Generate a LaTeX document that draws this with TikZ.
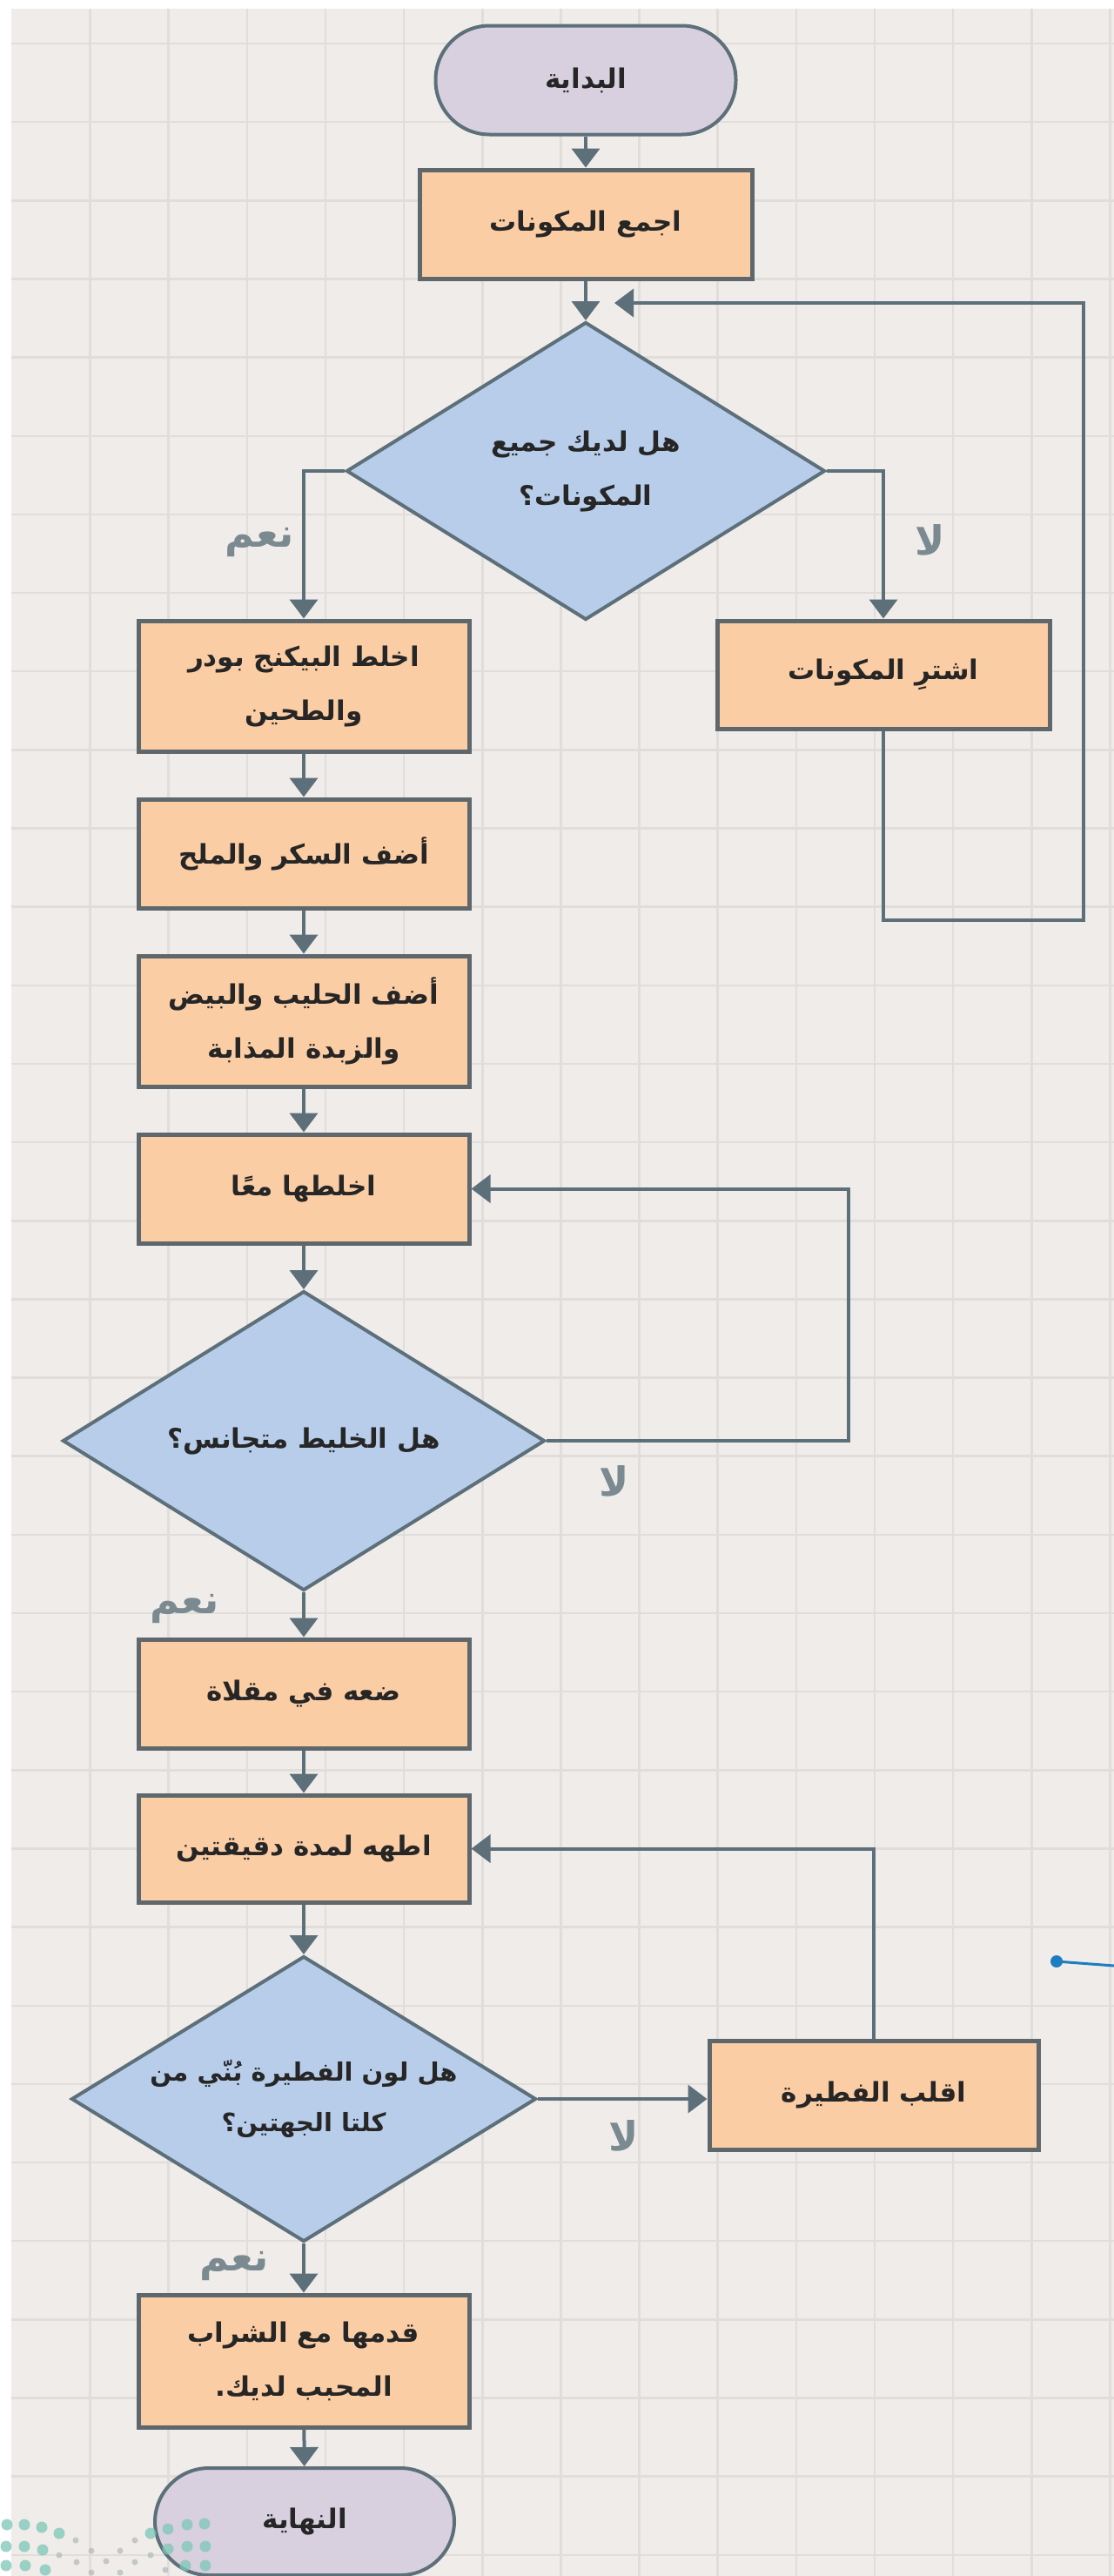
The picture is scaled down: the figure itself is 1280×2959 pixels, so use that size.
\documentclass[tikz,border=0pt]{standalone}
\usepackage{fontspec}
\usetikzlibrary{shapes.geometric,arrows.meta,calc}
\TeXXeTstate=1
\newfontfamily\arabicfont[Script=Arabic]{DejaVu Sans}
\definecolor{bgc}{HTML}{EFECEA}
\definecolor{gridc}{HTML}{E0DDDA}
\definecolor{peach}{HTML}{FBCDA4}
\definecolor{bluef}{HTML}{B7CDEA}
\definecolor{lav}{HTML}{D8D0DF}
\definecolor{edgec}{HTML}{5E676C}
\definecolor{linec}{HTML}{5D707A}
\definecolor{labc}{HTML}{7B8A90}
\definecolor{txtc}{HTML}{262626}
\definecolor{dotc}{HTML}{7CC7B6}
\definecolor{dotg}{HTML}{B3BDB9}
\definecolor{bluedot}{HTML}{1E7DC0}
\begin{document}
\begin{tikzpicture}[x=1pt,y=-1pt,
  txt/.style={font=\arabicfont\bfseries\fontsize{31}{62}\selectfont,text=txtc,align=center},
  procbox/.style={txt,rectangle,draw=edgec,line width=5pt,fill=peach,minimum width=380pt,minimum height=125pt,inner sep=0pt},
  decbox/.style={diamond,draw=linec,line width=4pt,fill=bluef,inner sep=0pt},
  dtxt/.style={txt,inner sep=0pt},
  termbox/.style={txt,rectangle,rounded corners=62pt,draw=linec,line width=4pt,fill=lav,minimum width=345pt,minimum height=125pt,inner sep=0pt},
  arr/.style={draw=linec,line width=4pt,-{Triangle[width=32pt,length=22pt]}},
  lab/.style={font=\arabicfont\bfseries\fontsize{46}{50}\selectfont,text=labc},
  gridln/.style={draw=gridc,line width=2.5pt}
]
\useasboundingbox (0,0) rectangle (1280,2959);
\fill[white] (0,0) rectangle (1280,2959);
\fill[bgc] (13,10) rectangle (1280,2959);
\foreach \i in {0,...,13} \draw[gridln] ({103.5+90.15*\i},10) -- ({103.5+90.15*\i},2959);
\foreach \j in {0,...,32} \draw[gridln] (13,{50+90.15*\j}) -- (1280,{50+90.15*\j});

% nodes
\node[termbox] (start) at (673,92) {\beginR البداية\endR};
\node[procbox,minimum width=382pt] (box1) at (673,257.5) {\beginR اجمع المكونات\endR};
\node[decbox,minimum width=550pt,minimum height=342pt,label={[dtxt]center:{\beginR هل لديك جميع\endR\\\beginR المكونات؟\endR}}] (d1) at (673,541) {};
\node[procbox,minimum height=150pt] (boxA) at (349,788) {\beginR اخلط البيكنج بودر\endR\\\beginR والطحين\endR};
\node[procbox,minimum width=382pt,minimum height=124pt] (boxB) at (1015,775) {\beginR اشترِ المكونات\endR};
\node[procbox] (boxC) at (349,980.5) {\beginR أضف السكر والملح\endR};
\node[procbox,minimum height=150pt] (boxD) at (349,1173) {\beginR أضف الحليب والبيض\endR\\\beginR والزبدة المذابة\endR};
\node[procbox] (boxE) at (349,1365.5) {\beginR اخلطها معًا\endR};
\node[decbox,minimum width=554pt,minimum height=344pt,label={[dtxt]center:{\beginR هل الخليط متجانس؟\endR}}] (d2) at (349,1655) {};
\node[procbox] (boxF) at (349,1945.5) {\beginR ضعه في مقلاة\endR};
\node[procbox,minimum height=123pt] (boxG) at (349,2123.5) {\beginR اطهه لمدة دقيقتين\endR};
\node[decbox,minimum width=534pt,minimum height=328pt,label={[dtxt,font=\arabicfont\bfseries\fontsize{29}{58}\selectfont]center:{\beginR هل لون الفطيرة بُنّي من\endR\\\beginR كلتا الجهتين؟\endR}}] (d3) at (349,2411) {};
\node[procbox,minimum width=378pt] (boxH) at (1004,2406.5) {\beginR اقلب الفطيرة\endR};
\node[procbox,minimum height=152pt] (boxI) at (349,2712) {\beginR قدمها مع الشراب\endR\\\beginR المحبب لديك.\endR};
\node[termbox,minimum width=344pt,minimum height=123pt] (end) at (350,2896.5) {\beginR النهاية\endR};

% labels
\node[lab] (yes1) at (298,623) {\beginR نعم\endR};
\node[lab] (no1) at (1069,620) {\beginR لا\endR};
\node[lab] (no2) at (706,1701) {\beginR لا\endR};
\node[lab] (yes2) at (212,1848) {\beginR نعم\endR};
\node[lab] (no3) at (717,2453) {\beginR لا\endR};
\node[lab] (yes3) at (269,2603) {\beginR نعم\endR};

% connectors
\coordinate (loopB1) at (1245,1057);
\coordinate (loopTip) at (706,348);
\coordinate (loop2) at (975,1655);
\draw[arr] (start) -- (box1);
\draw[arr] (box1) -- (d1);
\draw[arr] (d1.west) -| (boxA.north);
\draw[arr] (d1.east) -| (boxB.north);
\draw[arr] (boxB.south) |- (loopB1) |- (loopTip);
\draw[arr] (boxA) -- (boxC);
\draw[arr] (boxC) -- (boxD);
\draw[arr] (boxD) -- (boxE);
\draw[arr] (boxE) -- (d2);
\draw[arr] (d2.east) -- (loop2) |- (boxE.east);
\draw[arr] (d2) -- (boxF);
\draw[arr] (boxF) -- (boxG);
\draw[arr] (boxG) -- (d3);
\draw[arr] (d3.east) -- (d3.east -| boxH.west);
\draw[arr] (boxH.north) |- (boxG.east);
\draw[arr] (d3) -- (boxI);
\draw[arr] (boxI) -- (end);

% blue annotation
\node[circle,fill=bluedot,inner sep=0pt,minimum size=14pt] (bdot) at (1214,2253) {};
\coordinate (bend) at (1280,2258);
\draw[bluedot,line width=3pt] (bdot.center) -- (bend);

% logo dots
\begin{scope}[opacity=0.75]
\foreach \x/\y in {8/2900,28/2900,48/2903,68/2910,7/2925,28/2925,49/2929,7/2947,29/2947,52/2952,193/2905,215/2900,235/2899,173/2910,193/2928,215/2925,236/2925,213/2947,236/2947}
  \fill[dotc] (\x,\y) circle (6.5pt);
\foreach \x/\y in {87/2918,68/2935,105/2930,138/2930,155/2918,173/2935,88/2943,122/2942,155/2943,105/2955,138/2955,190/2952}
  \fill[dotg] (\x,\y) circle (3.5pt);
\end{scope}
\end{tikzpicture}
\end{document}
